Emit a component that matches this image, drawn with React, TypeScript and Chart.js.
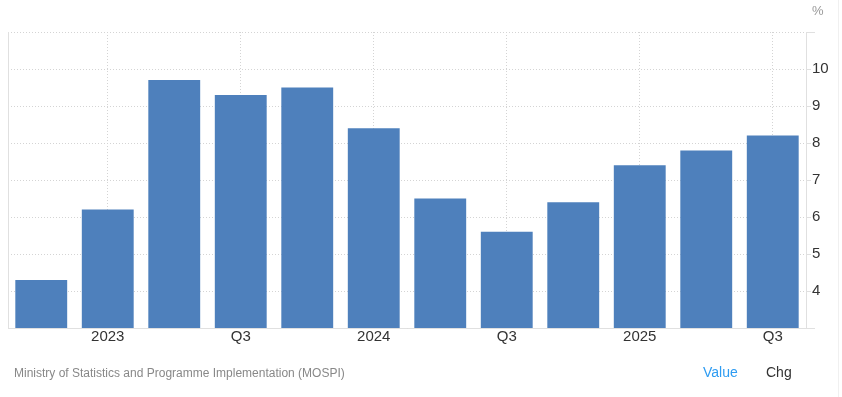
import React, { useEffect, useRef } from "react";
import { Chart, registerables } from "chart.js";

Chart.register(...registerables);

const categories = [
  "Q4 2022", "Q1 2023", "Q2 2023", "Q3 2023", "Q4 2023", "Q1 2024",
  "Q2 2024", "Q3 2024", "Q4 2024", "Q1 2025", "Q2 2025", "Q3 2025",
];
const gdpGrowth = [4.3, 6.2, 9.7, 9.3, 9.5, 8.4, 6.5, 5.6, 6.4, 7.4, 7.8, 8.2];
const xTickLabels = ["", "2023", "", "Q3", "", "2024", "", "Q3", "", "2025", "", "Q3"];
const yMin = 3;
const yMax = 11;
const yShown = [4, 5, 6, 7, 8, 9, 10];

const FONT = '"Liberation Sans", Arial, Helvetica, sans-serif';
const GRID = "#d4d4d4";
const AXIS = "#e0e0e0";

const framePlugin = {
  id: "frame",
  beforeDatasetsDraw(chart: any) {
    const { ctx, chartArea } = chart;
    ctx.save();
    ctx.strokeStyle = AXIS;
    ctx.lineWidth = 1;
    ctx.beginPath();
    const lx = Math.round(chartArea.left) + 0.5;
    ctx.moveTo(lx, chartArea.top);
    ctx.lineTo(lx, chartArea.bottom);
    ctx.stroke();
    ctx.restore();
  },
  afterDraw(chart: any) {
    const { ctx, chartArea, width, height } = chart;
    ctx.save();
    ctx.lineWidth = 1;
    ctx.strokeStyle = AXIS;
    const r = Math.round(chartArea.right);
    ctx.beginPath();
    const ty = Math.round(chartArea.top) + 0.5;
    const by = Math.round(chartArea.bottom) + 0.5;
    ctx.moveTo(r, ty);
    ctx.lineTo(r + 9, ty);
    ctx.moveTo(r, by);
    ctx.lineTo(r + 9, by);
    ctx.stroke();
    ctx.strokeStyle = "#f0f0f0";
    ctx.beginPath();
    ctx.moveTo(width - 3.5, 0);
    ctx.lineTo(width - 3.5, height);
    ctx.stroke();
    ctx.restore();
  },
};

export default function App() {
  const ref = useRef<HTMLCanvasElement | null>(null);

  useEffect(() => {
    if (!ref.current) return;
    const chart = new Chart(ref.current, {
      type: "bar",
      data: {
        labels: categories,
        datasets: [
          {
            label: "GDP Growth Rate",
            data: gdpGrowth,
            backgroundColor: "#4e80bc",
            borderWidth: 0,
            categoryPercentage: 1,
            barPercentage: 0.78,
          },
        ],
      },
      options: {
        animation: false,
        responsive: true,
        maintainAspectRatio: false,
        layout: { padding: { left: 8, top: 32, right: 0, bottom: 49 } },
        plugins: {
          legend: { display: false },
          tooltip: { enabled: false },
        },
        scales: {
          x: {
            offset: true,
            grid: {
              offset: false,
              drawTicks: false,
              color: (c: any) => (c.index % 2 === 1 ? GRID : "rgba(0,0,0,0)"),
            },
            border: { display: true, color: AXIS, dash: [1, 2] },
            ticks: {
              autoSkip: false,
              maxRotation: 0,
              padding: 0,
              color: "#333333",
              font: { family: FONT, size: 15 },
              callback: (_v: any, i: number) => xTickLabels[i],
            },
            afterFit: (s: any) => {
              s.height = 20;
            },
          },
          y: {
            position: "right",
            min: yMin,
            max: yMax,
            grid: {
              color: GRID,
              drawTicks: true,
              tickLength: 5,
              tickColor: AXIS,
            },
            border: { display: true, color: AXIS, dash: [1, 2] },
            ticks: {
              stepSize: 1,
              padding: 1,
              color: "#333333",
              font: { family: FONT, size: 15 },
              callback: (v: any) => (yShown.includes(Number(v)) ? String(v) : ""),
            },
            afterFit: (s: any) => {
              s.width = 36;
            },
          },
        },
      },
      plugins: [framePlugin],
    });
    return () => chart.destroy();
  }, []);

  return (
    <div style={{ position: "absolute", left: 0, top: 0, width: 842, height: 397, background: "#fff", fontFamily: FONT }}>
      <canvas ref={ref} />
      <div style={{ position: "absolute", left: 812, top: 4, fontSize: 13, lineHeight: "13px", color: "#999999" }}>%</div>
      <div style={{ position: "absolute", left: 14, top: 367, fontSize: 12, lineHeight: "12px", color: "#888888", whiteSpace: "nowrap" }}>
        Ministry of Statistics and Programme Implementation (MOSPI)
      </div>
      <div style={{ position: "absolute", left: 703, top: 365, fontSize: 14, lineHeight: "14px", color: "#2e9cf2" }}>Value</div>
      <div style={{ position: "absolute", left: 766, top: 365, fontSize: 14, lineHeight: "14px", color: "#333333" }}>Chg</div>
    </div>
  );
}
